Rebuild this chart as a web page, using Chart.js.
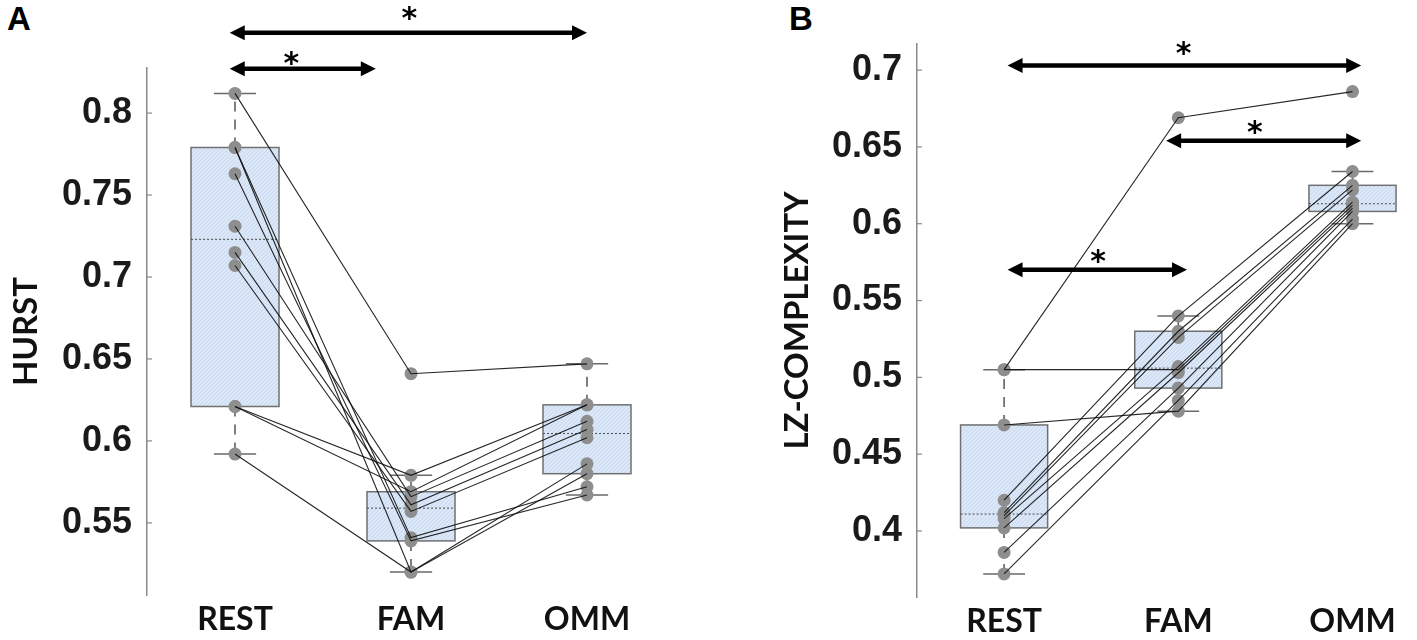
<!DOCTYPE html>
<html>
<head>
<meta charset="utf-8">
<script src="https://cdn.jsdelivr.net/npm/chart.js@4"></script>
<style>
  body { margin: 0; background: #fff; width: 1417px; height: 640px; overflow: hidden; position: relative; }
  .panel { position: absolute; top: 0; height: 640px; }
  #wrapA { left: 0; width: 700px; }
  #wrapB { left: 700px; width: 717px; }
  .letter { position: absolute; top: 0px; font: bold 33px "Liberation Sans", Arial, sans-serif; color: #000; }
</style>
</head>
<body>
<div class="letter" style="left:7px">A</div>
<div class="letter" style="left:789px">B</div>
<div class="panel" id="wrapA"><canvas id="chartA" width="700" height="640"></canvas></div>
<div class="panel" id="wrapB"><canvas id="chartB" width="717" height="640"></canvas></div>
<script>
const groups = ['REST', 'FAM', 'OMM'];

// HURST, one entry per subject (same order in every array)
const hurstRest = [0.812, 0.592, 0.621, 0.621, 0.779, 0.779, 0.763, 0.731, 0.715, 0.707];
const hurstFam  = [0.641, 0.520, 0.579, 0.569, 0.520, 0.541, 0.539, 0.566, 0.561, 0.557];
const hurstOmm  = [0.647, 0.586, 0.622, 0.622, 0.580, 0.572, 0.567, 0.612, 0.607, 0.602];
const hurstTicks = [0.55, 0.6, 0.65, 0.7, 0.75, 0.8];

// LZ-complexity, one entry per subject
const lzRest = [0.505, 0.505, 0.469, 0.420, 0.412, 0.410, 0.408, 0.402, 0.386, 0.372];
const lzFam  = [0.669, 0.505, 0.478, 0.540, 0.530, 0.526, 0.507, 0.503, 0.493, 0.485];
const lzOmm  = [0.686, 0.612, 0.600, 0.634, 0.625, 0.622, 0.614, 0.610, 0.608, 0.603];
const lzTicks = [0.4, 0.45, 0.5, 0.55, 0.6, 0.65, 0.7];

// significance arrows: [from x, to x, level, star x, star offset px]
const hurstSig = [[0.97, 3.0, 0.849, 1.99, -19], [0.97, 1.8, 0.827, 1.32, -10]];
const lzSig = [[1.02, 3.05, 0.703, 2.03, -17], [1.93, 3.05, 0.654, 2.44, -13], [1.02, 2.05, 0.570, 1.54, -13]];

// matlab style prctile
function quantile(s, p) {
  const n = s.length, pos = p * n + 0.5;
  if (pos <= 1) return s[0];
  if (pos >= n) return s[n - 1];
  const i = Math.floor(pos), f = pos - i;
  return s[i - 1] + f * (s[i] - s[i - 1]);
}
function boxStats(values) {
  const s = [...values].sort((a, b) => a - b);
  const q1 = quantile(s, 0.25), med = quantile(s, 0.5), q3 = quantile(s, 0.75);
  const iqr = q3 - q1;
  const hi = Math.max(...s.filter(v => v <= q3 + 1.5 * iqr));
  const lo = Math.min(...s.filter(v => v >= q1 - 1.5 * iqr));
  return { q1, med, q3, lo, hi };
}

let hatch = null;
function hatchPattern(ctx) {
  if (hatch) return hatch;
  const c = document.createElement('canvas');
  c.width = 4; c.height = 4;
  const g = c.getContext('2d');
  g.fillStyle = '#dce8f8'; g.fillRect(0, 0, 4, 4);
  g.fillStyle = '#c6d8f0';
  g.fillRect(0, 0, 1, 1); g.fillRect(2, 2, 1, 1); g.fillRect(1, 3, 1, 1); g.fillRect(3, 1, 1, 1);
  hatch = ctx.createPattern(c, 'repeat');
  return hatch;
}

function makeBoxPlugin(series) {
  return {
    id: 'boxes',
    beforeDatasetsDraw(chart) {
      const { ctx, scales: { x, y } } = chart;
      ctx.save();
      series.forEach((vals, i) => {
        const st = boxStats(vals);
        const cx = x.getPixelForValue(i + 1);
        const hw = x.getPixelForValue(i + 1.25) - cx;
        const cw = x.getPixelForValue(i + 1.12) - cx;
        const top = y.getPixelForValue(st.q3), bot = y.getPixelForValue(st.q1);
        ctx.fillStyle = hatchPattern(ctx);
        ctx.fillRect(cx - hw, top, hw * 2, bot - top);
        ctx.strokeStyle = '#707070'; ctx.lineWidth = 1.5; ctx.setLineDash([]);
        ctx.strokeRect(cx - hw, top, hw * 2, bot - top);
        // median
        const my = y.getPixelForValue(st.med);
        ctx.strokeStyle = '#4a4a4a'; ctx.lineWidth = 1; ctx.setLineDash([2, 2]);
        ctx.beginPath(); ctx.moveTo(cx - hw, my); ctx.lineTo(cx + hw, my); ctx.stroke();
        // whiskers
        const hiY = y.getPixelForValue(st.hi), loY = y.getPixelForValue(st.lo);
        ctx.strokeStyle = '#555'; ctx.lineWidth = 1.5; ctx.setLineDash([10, 8]);
        ctx.beginPath(); ctx.moveTo(cx, top); ctx.lineTo(cx, hiY); ctx.moveTo(cx, bot); ctx.lineTo(cx, loY); ctx.stroke();
        ctx.setLineDash([]); ctx.strokeStyle = '#6a6a6a';
        ctx.beginPath();
        ctx.moveTo(cx - cw, hiY); ctx.lineTo(cx + cw, hiY);
        ctx.moveTo(cx - cw, loY); ctx.lineTo(cx + cw, loY);
        ctx.stroke();
      });
      // inward y ticks
      ctx.strokeStyle = '#8a8a8a'; ctx.lineWidth = 1.2;
      y.ticks.forEach(t => {
        const py = y.getPixelForValue(t.value);
        ctx.beginPath(); ctx.moveTo(x.left, py); ctx.lineTo(x.left + 5, py); ctx.stroke();
      });
      ctx.restore();
    }
  };
}

function makeSigPlugin(sig) {
  return {
    id: 'sig',
    afterDraw(chart) {
      const { ctx, scales: { x, y } } = chart;
      ctx.save();
      ctx.fillStyle = '#000'; ctx.strokeStyle = '#000'; ctx.lineWidth = 4.5;
      sig.forEach(([a, b, lvl, sx, off]) => {
        const x1 = x.getPixelForValue(a), x2 = x.getPixelForValue(b), py = y.getPixelForValue(lvl);
        const head = 15, half = 7.5;
        ctx.beginPath(); ctx.moveTo(x1 + head - 2, py); ctx.lineTo(x2 - head + 2, py); ctx.stroke();
        ctx.beginPath(); ctx.moveTo(x1, py); ctx.lineTo(x1 + head, py - half); ctx.lineTo(x1 + head, py + half); ctx.closePath(); ctx.fill();
        ctx.beginPath(); ctx.moveTo(x2, py); ctx.lineTo(x2 - head, py - half); ctx.lineTo(x2 - head, py + half); ctx.closePath(); ctx.fill();
        ctx.font = 'bold 30px "DejaVu Sans"';
        ctx.textAlign = 'center'; ctx.textBaseline = 'alphabetic';
        const m = ctx.measureText('*');
        const ty = py + off + (m.actualBoundingBoxAscent - m.actualBoundingBoxDescent) / 2;
        ctx.fillText('*', x.getPixelForValue(sx), ty);
      });
      ctx.restore();
    }
  };
}

function buildChart(id, rest, fam, omm, ticks, cfg) {
  const series = [rest, fam, omm];
  const datasets = [];
  rest.forEach((v, i) => {
    datasets.push({
      data: [{ x: 1, y: rest[i] }, { x: 2, y: fam[i] }, { x: 3, y: omm[i] }],
      borderColor: 'rgba(15,15,15,0.9)', borderWidth: 1.1, pointRadius: 0, order: 1
    });
  });
  series.forEach((vals, g) => {
    datasets.push({
      data: vals.map(v => ({ x: g + 1, y: v })), showLine: false,
      pointRadius: 6.5, pointBackgroundColor: '#8e8e8e', pointBorderWidth: 0, order: 2
    });
  });
  return new Chart(document.getElementById(id), {
    type: 'line',
    data: { datasets },
    options: {
      responsive: false, animation: false, devicePixelRatio: 1,
      layout: { padding: { top: cfg.top, right: cfg.right, bottom: 0, left: 0 } },
      plugins: { legend: { display: false }, tooltip: { enabled: false } },
      scales: {
        x: {
          type: 'linear', min: 0.5, max: cfg.xMax,
          afterBuildTicks: s => { s.ticks = groups.map((g, i) => ({ value: i + 1 })); },
          afterFit: s => { s.height = cfg.xHeight; },
          grid: { display: false, drawTicks: false }, border: { display: false },
          ticks: { callback: v => groups[v - 1], autoSkip: false, maxRotation: 0, padding: 5,
                   color: '#111', font: { family: 'Lato', weight: 'bold', size: 32 } }
        },
        y: {
          min: cfg.yMin, max: cfg.yMax,
          afterBuildTicks: s => { s.ticks = ticks.map(v => ({ value: v })); },
          afterFit: s => { s.width = cfg.yWidth; },
          grid: { display: false, drawTicks: false },
          border: { display: true, color: '#8a8a8a', width: 1.5 },
          ticks: { callback: v => String(v), padding: 15, color: '#1a1a1a',
                   font: { family: 'Liberation Sans', weight: 'bold', size: 36 } },
          title: { display: true, text: cfg.title, color: '#111', padding: { top: cfg.titlePad, bottom: 0 },
                   font: { family: 'Lato', weight: 'bold', size: 33 } }
        }
      }
    },
    plugins: [makeBoxPlugin(series), makeSigPlugin(cfg.sig)]
  });
}

buildChart('chartA', hurstRest, hurstFam, hurstOmm, hurstTicks, {
  top: 68, right: 25, xMax: 3.5, xHeight: 45, yMin: 0.506, yMax: 0.8275, yWidth: 147,
  title: 'HURST', titlePad: 7, sig: hurstSig
});
buildChart('chartB', lzRest, lzFam, lzOmm, lzTicks, {
  top: 44, right: 0, xMax: 3.333, xHeight: 43, yMin: 0.357, yMax: 0.717, yWidth: 217,
  title: 'LZ-COMPLEXITY', titlePad: 78, sig: lzSig
});
</script>
</body>
</html>
